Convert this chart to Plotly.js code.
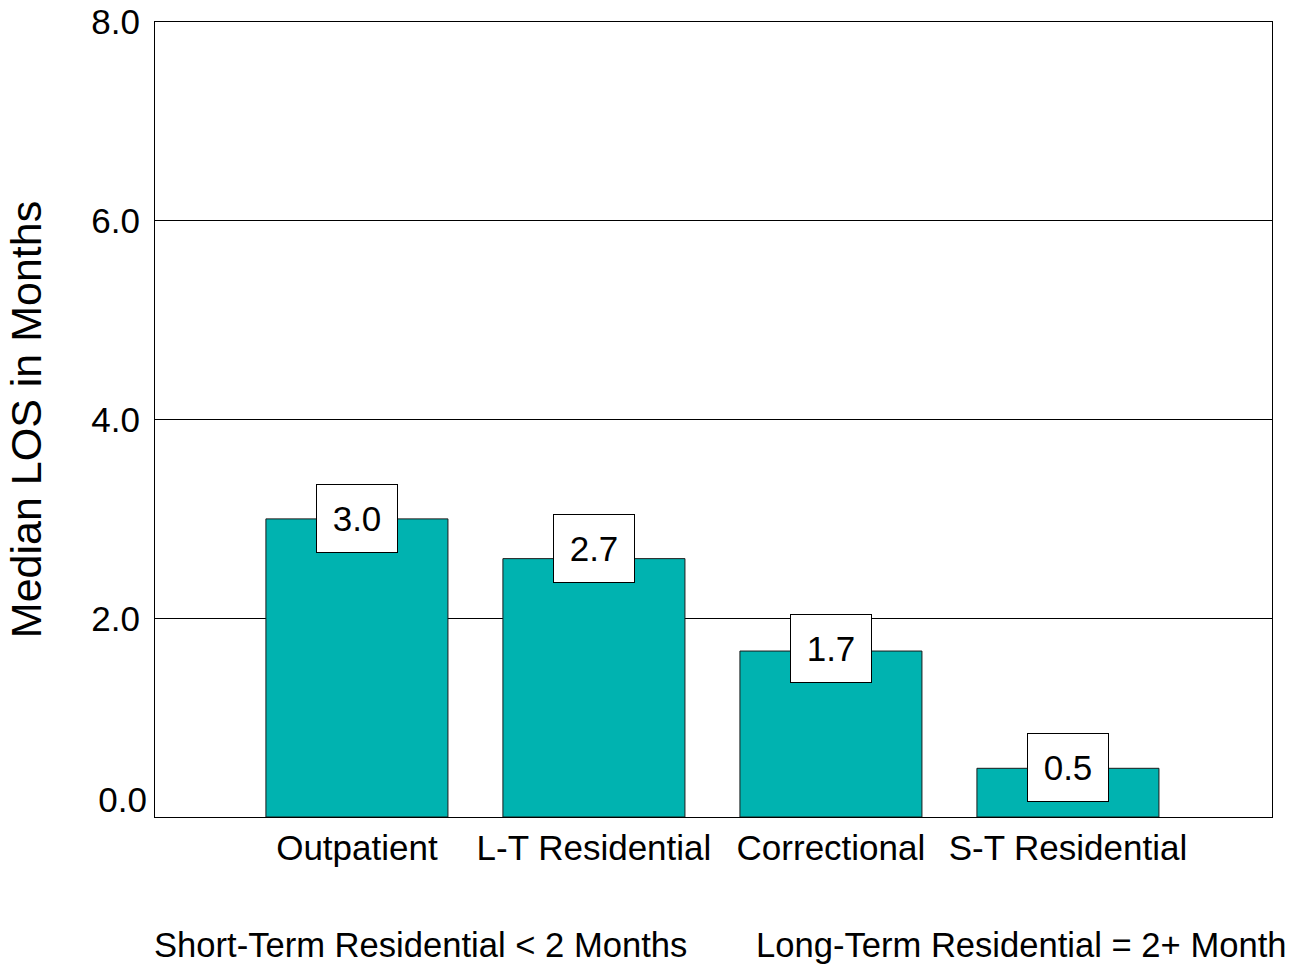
<!DOCTYPE html>
<html>
<head>
<meta charset="utf-8">
<script src="https://cdn.plot.ly/plotly-3.0.1.min.js"></script>
<style>html,body{margin:0;padding:0;background:#fff;overflow:hidden}#chart{width:1294px;height:966px}</style>
</head>
<body>
<div id="chart"></div>
<script>
const categories = ["Outpatient", "L-T Residential", "Correctional", "S-T Residential"];
const values = [3.0, 2.6, 1.67, 0.49];
const valueLabels = ["3.0", "2.7", "1.7", "0.5"];
const yTickVals = [2, 4, 6, 8];
const yTickText = ["2.0", "4.0", "6.0", "8.0"];
const zeroTickVal = [0.17];
const zeroTickText = ["0.0"];
const footnotes = ["Short-Term Residential < 2 Months", "Long-Term Residential = 2+ Month"];

const FONT = "Arial, 'Liberation Sans', sans-serif";
const FS = 35;

const traces = [
  {
    type: "bar",
    x: categories,
    y: values,
    width: 0.768,
    marker: {color: "#00B3B0", line: {color: "#1a1a1a", width: 1}},
    hoverinfo: "x+y",
    showlegend: false
  },
  {
    type: "scatter",
    x: [], y: [],
    yaxis: "y2",
    showlegend: false,
    hoverinfo: "skip"
  }
];

const annotations = valueLabels.map((t, i) => ({
  x: categories[i], y: parseFloat(t), xref: "x", yref: "y",
  text: t, showarrow: false,
  font: {family: FONT, size: FS, color: "#000"},
  bgcolor: "#fff", bordercolor: "#000", borderwidth: 1, borderpad: 1,
  width: 78, height: 65, xanchor: "center", yanchor: "middle"
}));
annotations.push(
  {xref: "paper", yref: "paper", x: (152 - 155) / 1117, y: -(945 - 817) / 795,
   xanchor: "left", yanchor: "middle", text: footnotes[0], showarrow: false,
   font: {family: FONT, size: 34.6, color: "#000"}},
  {xref: "paper", yref: "paper", x: (754 - 155) / 1117, y: -(945 - 817) / 795,
   xanchor: "left", yanchor: "middle", text: footnotes[1], showarrow: false,
   font: {family: FONT, size: 34.6, color: "#000"}}
);

const layout = {
  width: 1294, height: 966,
  margin: {l: 155, r: 22, t: 22, b: 149},
  paper_bgcolor: "#fff", plot_bgcolor: "#fff",
  font: {family: FONT, size: FS, color: "#000"},
  bargap: 0,
  xaxis: {
    type: "category",
    range: [-0.852, 3.861],
    showgrid: false, zeroline: false,
    showline: true, linecolor: "#000", linewidth: 1, mirror: true,
    ticks: "", ticklabelstandoff: 0,
    tickfont: {family: FONT, size: FS, color: "#000"},
    fixedrange: true
  },
  yaxis: {
    range: [0, 8],
    tickvals: yTickVals, ticktext: yTickText,
    showgrid: true, gridcolor: "#000", gridwidth: 1,
    zeroline: false,
    showline: true, linecolor: "#000", linewidth: 1, mirror: true,
    ticks: "", ticklabelstandoff: 7,
    tickfont: {family: FONT, size: FS, color: "#000"},
    title: {text: "Median LOS in Months", font: {family: FONT, size: 43, color: "#000"}, standoff: 36},
    automargin: false,
    fixedrange: true
  },
  yaxis2: {
    overlaying: "y", side: "left",
    range: [0, 8],
    tickvals: zeroTickVal, ticktext: zeroTickText,
    showgrid: false, zeroline: false, showline: false,
    ticks: "", ticklabelstandoff: 7,
    tickfont: {family: FONT, size: FS, color: "#000"},
    fixedrange: true
  },
  annotations: annotations,
  showlegend: false
};

Plotly.newPlot("chart", traces, layout, {displayModeBar: false, staticPlot: true});
</script>
</body>
</html>
